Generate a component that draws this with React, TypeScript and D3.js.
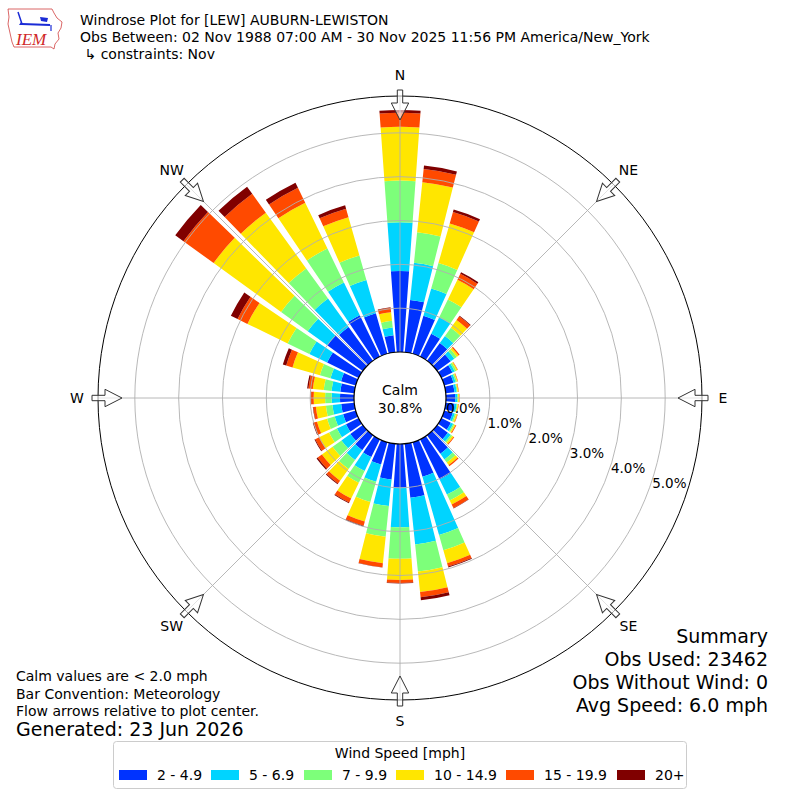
import React, { useEffect, useRef } from 'react';
import * as d3 from 'd3';

// direction bins (degrees, meteorological)
const directions = [0, 10, 20, 30, 40, 50, 60, 70, 80, 90, 100, 110, 120, 130, 140, 150, 160, 170,
    180, 190, 200, 210, 220, 230, 240, 250, 260, 270, 280, 290, 300, 310, 320, 330, 340, 350];

const speedBins = ['2 - 4.9', '5 - 6.9', '7 - 9.9', '10 - 14.9', '15 - 19.9', '20+'];
const binColors = ['#0033ff', '#00d4ff', '#7dff7a', '#ffe600', '#ff4a00', '#800000'];

// percent of observations per direction and speed bin
const speed2to5 = [1.85, 1.20, 0.90, 0.58, 0.50, 0.38, 0.28, 0.22, 0.20, 0.21, 0.20, 0.20, 0.24, 0.30, 0.52, 1.02, 0.82, 1.24,
    1.00, 0.82, 0.53, 0.45, 0.42, 0.35, 0.32, 0.30, 0.30, 0.32, 0.32, 0.35, 0.80, 1.00, 0.95, 1.05, 0.96, 0.39];
const speed5to7 = [1.11, 0.85, 0.65, 0.42, 0.20, 0.10, 0.06, 0.05, 0.05, 0.05, 0.05, 0.05, 0.06, 0.08, 0.16, 0.38, 1.38, 1.07,
    0.90, 0.61, 0.41, 0.35, 0.28, 0.25, 0.23, 0.20, 0.20, 0.19, 0.20, 0.25, 0.45, 0.55, 0.80, 0.83, 0.79, 0.18];
const speed7to10 = [0.95, 0.70, 0.60, 0.45, 0.23, 0.07, 0.04, 0.03, 0.02, 0.02, 0.02, 0.03, 0.03, 0.04, 0.09, 0.15, 0.36, 0.62,
    0.72, 0.70, 0.48, 0.30, 0.25, 0.25, 0.20, 0.18, 0.15, 0.15, 0.18, 0.25, 0.55, 0.75, 0.85, 0.86, 0.58, 0.15];
const speed10to15 = [1.23, 1.15, 0.94, 0.50, 0.22, 0.05, 0.03, 0.02, 0.02, 0.02, 0.02, 0.03, 0.03, 0.04, 0.07, 0.10, 0.31, 0.47,
    0.48, 0.61, 0.46, 0.40, 0.33, 0.30, 0.25, 0.24, 0.23, 0.26, 0.25, 0.65, 1.02, 1.90, 1.57, 1.16, 0.91, 0.20];
const speed15to20 = [0.32, 0.30, 0.27, 0.15, 0.10, 0.03, 0.01, 0.01, 0.01, 0.01, 0.01, 0.01, 0.02, 0.02, 0.03, 0.09, 0.08, 0.12,
    0.07, 0.09, 0.10, 0.10, 0.08, 0.12, 0.10, 0.08, 0.06, 0.06, 0.10, 0.15, 0.25, 0.85, 0.53, 0.38, 0.20, 0.10];
const speed20plus = [0.06, 0.08, 0.06, 0.04, 0.02, 0.00, 0.00, 0.00, 0.00, 0.00, 0.00, 0.00, 0.00, 0.00, 0.00, 0.01, 0.02, 0.07,
    0.01, 0.01, 0.02, 0.02, 0.02, 0.03, 0.02, 0.02, 0.01, 0.01, 0.03, 0.08, 0.17, 0.23, 0.20, 0.13, 0.08, 0.01];

const radialTicks = [0, 1, 2, 3, 4, 5];
const compassLabels = ['N', 'NE', 'E', 'SE', 'S', 'SW', 'W', 'NW'];
const compassAngles = [0, 45, 90, 135, 180, 225, 270, 315];

const titleLines = [
    'Windrose Plot for [LEW] AUBURN-LEWISTON',
    'Obs Between: 02 Nov 1988 07:00 AM - 30 Nov 2025 11:56 PM America/New_York',
    ' \u21b3 constraints: Nov',
];
const notes = ['Calm values are < 2.0 mph', 'Bar Convention: Meteorology', 'Flow arrows relative to plot center.'];
const summaryLines = ['Summary', 'Obs Used: 23462', 'Obs Without Wind: 0', 'Avg Speed: 6.0 mph'];
const calmPercent = '30.8%';

const FONT = 'DejaVu Sans, sans-serif';

export default function App() {
    const svgRef = useRef<SVGSVGElement>(null);

    useEffect(() => {
        if (!svgRef.current) return;
        const width = 800;
        const height = 800;
        const cx = 400;
        const cy = 398;
        const svg = d3.select(svgRef.current).attr('viewBox', `0 0 ${width} ${height}`);
        svg.selectAll('*').remove();

        const r = d3.scaleLinear().domain([0, 5.84]).range([46, 302]);
        const rad = (deg: number) => (deg * Math.PI) / 180;
        const halfWidth = 4.1;

        const keys = ['s0', 's1', 's2', 's3', 's4', 's5'];
        const rows = directions.map((dir, i) => ({
            dir,
            s0: speed2to5[i],
            s1: speed5to7[i],
            s2: speed7to10[i],
            s3: speed10to15[i],
            s4: speed15to20[i],
            s5: speed20plus[i],
        }));
        const stacked = d3.stack<any>().keys(keys)(rows);

        const g = svg.append('g').attr('transform', `translate(${cx},${cy})`);

        const arc = d3.arc<any>();
        stacked.forEach((layer, k) => {
            g.append('g')
                .selectAll('path')
                .data(layer)
                .enter()
                .append('path')
                .attr('d', (d: any) => arc({
                    innerRadius: r(d[0]),
                    outerRadius: r(d[1]),
                    startAngle: rad(d.data.dir - halfWidth),
                    endAngle: rad(d.data.dir + halfWidth),
                }))
                .attr('fill', binColors[k]);
        });

        // grid
        g.selectAll('.ring')
            .data(radialTicks.slice(1))
            .enter()
            .append('circle')
            .attr('r', d => r(d))
            .attr('fill', 'none')
            .attr('stroke', '#b0b0b0')
            .attr('stroke-width', 0.9);

        g.selectAll('.spoke')
            .data(compassAngles)
            .enter()
            .append('line')
            .attr('x1', 0)
            .attr('y1', 0)
            .attr('x2', d => r(5.84) * Math.sin(rad(d)))
            .attr('y2', d => -r(5.84) * Math.cos(rad(d)))
            .attr('stroke', '#b0b0b0')
            .attr('stroke-width', 0.9);

        g.append('circle')
            .attr('r', r(5.84))
            .attr('fill', 'none')
            .attr('stroke', '#000')
            .attr('stroke-width', 1);

        // calm circle
        g.append('circle')
            .attr('r', r(0))
            .attr('fill', '#fff')
            .attr('stroke', '#000')
            .attr('stroke-width', 1.2);
        g.append('text')
            .attr('x', 0).attr('y', -3)
            .attr('text-anchor', 'middle')
            .attr('font-family', FONT).attr('font-size', 14)
            .text('Calm');
        g.append('text')
            .attr('x', 0).attr('y', 15)
            .attr('text-anchor', 'middle')
            .attr('font-family', FONT).attr('font-size', 14)
            .text(calmPercent);

        // radial tick labels
        const labelAngle = rad(110);
        g.selectAll('.rlabel')
            .data(radialTicks)
            .enter()
            .append('text')
            .attr('x', d => r(d) * Math.sin(labelAngle) + 3)
            .attr('y', d => -r(d) * Math.cos(labelAngle) - 1)
            .attr('font-family', FONT)
            .attr('font-size', 13.5)
            .text(d => `${d.toFixed(1)}%`);

        // compass labels
        g.selectAll('.clabel')
            .data(compassLabels)
            .enter()
            .append('text')
            .attr('x', (d, i) => 323 * Math.sin(rad(compassAngles[i])))
            .attr('y', (d, i) => -323 * Math.cos(rad(compassAngles[i])) + 5)
            .attr('text-anchor', 'middle')
            .attr('font-family', FONT)
            .attr('font-size', 14)
            .text(d => d);

        // inward flow arrows
        const arrowPts: [number, number][] = [
            [0, -278], [8.7, -295], [2.7, -295], [2.7, -308], [-2.7, -308], [-2.7, -295], [-8.7, -295],
        ];
        g.selectAll('.arrow')
            .data(compassAngles)
            .enter()
            .append('polygon')
            .attr('points', arrowPts.map(p => p.join(',')).join(' '))
            .attr('transform', d => `rotate(${d})`)
            .attr('fill', '#fff')
            .attr('fill-opacity', 0.6)
            .attr('stroke', '#333')
            .attr('stroke-width', 1);

        // header text
        svg.selectAll('.title')
            .data(titleLines)
            .enter()
            .append('text')
            .attr('x', 80)
            .attr('y', (d, i) => 25 + i * 17)
            .attr('font-family', FONT)
            .attr('font-size', 14)
            .attr('xml:space', 'preserve')
            .style('white-space', 'pre')
            .text(d => d);

        // logo
        const logo = svg.append('g');
        logo.append('path')
            .attr('d', 'M8,9 L52,9 L54,13 L57,18 L62,22 L61,28 L58,33 L59,39 L55,44 L54,49 L51,47 L14,47 L12,42 L10,33 L8,24 L9,17 Z')
            .attr('fill', 'none')
            .attr('stroke', '#d04040')
            .attr('stroke-width', 0.8);
        logo.append('line').attr('x1', 22).attr('y1', 24).attr('x2', 50).attr('y2', 25)
            .attr('stroke', '#1a2bd6').attr('stroke-width', 2);
        logo.append('line').attr('x1', 22).attr('y1', 24).attr('x2', 18).attr('y2', 12)
            .attr('stroke', '#1a2bd6').attr('stroke-width', 1.5);
        logo.append('polygon').attr('points', '40,17 48,18 47,22 41,21')
            .attr('fill', '#1a2bd6');
        logo.append('polygon').attr('points', '19,25 23,25 21,22')
            .attr('fill', '#1a2bd6');
        logo.append('line').attr('x1', 51).attr('y1', 25).attr('x2', 51).attr('y2', 31)
            .attr('stroke', '#1a2bd6').attr('stroke-width', 1.2);
        logo.append('text')
            .attr('x', 16).attr('y', 45)
            .attr('font-family', 'Liberation Serif, serif')
            .attr('font-style', 'italic')
            .attr('font-size', 17)
            .attr('fill', '#d02828')
            .text('IEM');

        // notes bottom-left
        svg.selectAll('.note')
            .data(notes)
            .enter()
            .append('text')
            .attr('x', 16)
            .attr('y', (d, i) => 681 + i * 17.5)
            .attr('font-family', FONT)
            .attr('font-size', 14)
            .text(d => d);
        svg.append('text')
            .attr('x', 16).attr('y', 736)
            .attr('font-family', FONT).attr('font-size', 19)
            .text('Generated: 23 Jun 2026');

        // summary bottom-right
        svg.selectAll('.summary')
            .data(summaryLines)
            .enter()
            .append('text')
            .attr('x', 768)
            .attr('y', (d, i) => 643 + i * 23)
            .attr('text-anchor', 'end')
            .attr('font-family', FONT)
            .attr('font-size', 19)
            .text(d => d);

        // legend
        const legend = svg.append('g');
        legend.append('rect')
            .attr('x', 113.5).attr('y', 741.5)
            .attr('width', 573).attr('height', 47)
            .attr('rx', 3)
            .attr('fill', '#fff')
            .attr('stroke', '#cccccc');
        legend.append('text')
            .attr('x', 400).attr('y', 758)
            .attr('text-anchor', 'middle')
            .attr('font-family', FONT).attr('font-size', 14)
            .text('Wind Speed [mph]');
        const itemX = [119, 211, 304, 396, 506, 617];
        const items = legend.selectAll('.item')
            .data(speedBins)
            .enter()
            .append('g')
            .attr('transform', (d, i) => `translate(${itemX[i]},775)`);
        items.append('rect')
            .attr('x', 0).attr('y', -5)
            .attr('width', 28).attr('height', 10)
            .attr('fill', (d, i) => binColors[i]);
        items.append('text')
            .attr('x', 38).attr('y', 5)
            .attr('font-family', FONT).attr('font-size', 14)
            .text(d => d);
    }, []);

    return (
        <div style={{ position: 'absolute', left: 0, top: 0, width: 800, height: 800, background: '#fff' }}>
            <svg ref={svgRef} width={800} height={800} style={{ display: 'block' }} />
        </div>
    );
}
